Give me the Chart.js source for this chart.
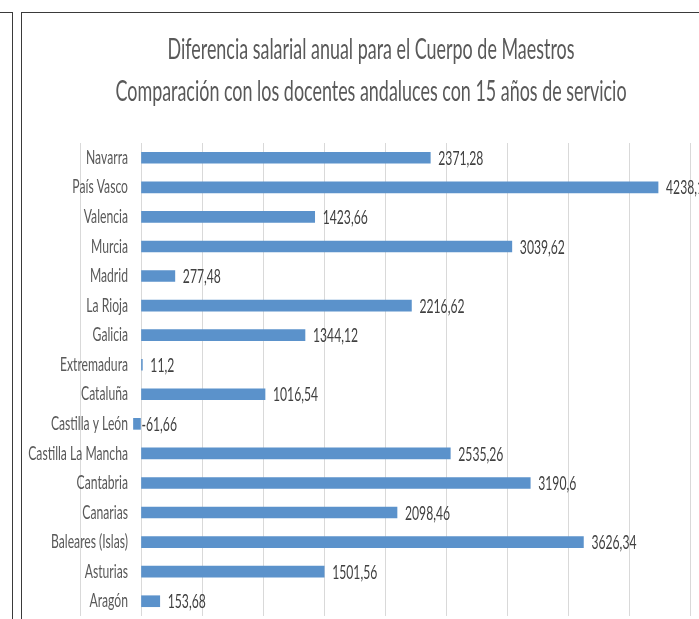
<!DOCTYPE html>
<html><head><meta charset="utf-8">
<script src="https://cdn.jsdelivr.net/npm/chart.js@4.4.1/dist/chart.umd.min.js"></script>
<style>
html,body{margin:0;padding:0;background:#fff;overflow:hidden;width:699px;height:619px;}
#prev{position:absolute;left:0;top:12px;width:12px;height:700px;border-top:1px solid #3a3a3a;border-right:1px solid #3a3a3a;}
#box{position:absolute;left:21px;top:12px;width:760px;height:700px;border-top:1px solid #3a3a3a;border-left:1px solid #3a3a3a;}
#c{position:absolute;left:0;top:0;}
</style></head><body>
<div id="prev"></div>
<div id="box"><canvas id="c" width="700" height="640"></canvas></div>
<script>
const titleLines = ['Diferencia salarial anual para el Cuerpo de Maestros', 'Comparación con los docentes andaluces con 15 años de servicio'];
const categories = ['Navarra', 'País Vasco', 'Valencia', 'Murcia', 'Madrid', 'La Rioja', 'Galicia', 'Extremadura', 'Cataluña', 'Castilla y León', 'Castilla La Mancha', 'Cantabria', 'Canarias', 'Baleares (Islas)', 'Asturias', 'Aragón'];
const values = [2371.28, 4238.1, 1423.66, 3039.62, 277.48, 2216.62, 1344.12, 11.2, 1016.54, -61.66, 2535.26, 3190.6, 2098.46, 3626.34, 1501.56, 153.68];
const axisMin = -500;
const axisMax = 4500;
const axisStep = 500;

const FAMILY = "Lato, 'Open Sans', sans-serif";
const SX = 0.64;          // horizontal condensing of all text (narrow, Excel-like look)
const LABEL_SIZE = 19;
const VALUE_SIZE = 19;
const LABEL_RIGHT = 48;   // label right edge offset from plot-area left

Chart.defaults.font.family = FAMILY;

const canvas = document.getElementById('c');
const ctx = canvas.getContext('2d');
const P = CanvasRenderingContext2D.prototype;
ctx.fillText = function (t, x, y, mw) {
  this.save();
  this.translate(x, y);
  this.scale(SX, 1);
  if (mw === undefined) P.fillText.call(this, t, 0, 0);
  else P.fillText.call(this, t, 0, 0, mw / SX);
  this.restore();
};
ctx.measureText = function (t) {
  const m = P.measureText.call(this, t);
  return {
    width: m.width * SX,
    actualBoundingBoxLeft: m.actualBoundingBoxLeft * SX,
    actualBoundingBoxRight: m.actualBoundingBoxRight * SX,
    actualBoundingBoxAscent: m.actualBoundingBoxAscent,
    actualBoundingBoxDescent: m.actualBoundingBoxDescent
  };
};

function widestLabel() {
  ctx.save();
  ctx.font = LABEL_SIZE + 'px ' + FAMILY;
  const w = Math.max(...categories.map(t => ctx.measureText(t).width));
  ctx.restore();
  return w;
}

function fmt(v) { return String(v).replace('.', ','); }

const valueLabels = {
  id: 'valueLabels',
  afterDatasetsDraw(chart) {
    const c = chart.ctx;
    const meta = chart.getDatasetMeta(0);
    c.save();
    c.font = VALUE_SIZE + 'px ' + FAMILY;
    c.fillStyle = '#404040';
    c.textAlign = 'left';
    c.textBaseline = 'middle';
    meta.data.forEach((el, i) => {
      c.fillText(fmt(values[i]), el.x + 8, el.y + 1);
    });
    c.restore();
  }
};

new Chart(canvas, {
  type: 'bar',
  data: {
    labels: categories,
    datasets: [{
      data: values,
      backgroundColor: '#5B92CB',
      borderWidth: 0,
      barThickness: 11
    }]
  },
  options: {
    indexAxis: 'y',
    responsive: false,
    animation: false,
    layout: { padding: { left: 30, right: 32, top: 0, bottom: 7 } },
    plugins: {
      legend: { display: false },
      tooltip: { enabled: false },
      title: {
        display: true,
        text: titleLines,
        color: '#595959',
        font: { size: 28, lineHeight: 42 / 28, weight: 'normal' },
        padding: { top: 16, bottom: 30 }
      }
    },
    scales: {
      x: {
        min: axisMin, max: axisMax,
        ticks: { stepSize: axisStep, color: '#595959', font: { size: 19 } },
        grid: { color: '#d9d9d9', drawTicks: false },
        border: { display: false },
        afterFit(s) { s.height = 30; }
      },
      y: {
        ticks: {
          autoSkip: false, color: '#595959', mirror: true, crossAlign: 'far',
          padding: LABEL_RIGHT - widestLabel(), font: { size: LABEL_SIZE }
        },
        grid: { display: false, drawTicks: false },
        border: { display: false },
        afterFit(s) { s.width = 28; }
      }
    }
  },
  plugins: [valueLabels]
});
</script>
</body></html>
